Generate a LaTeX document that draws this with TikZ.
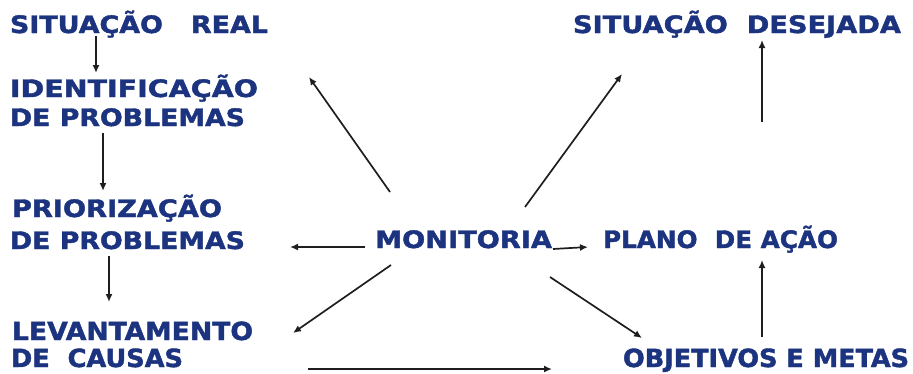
\documentclass[tikz,border=0pt]{standalone}
\usepackage{fontspec}
\usepackage{graphicx}
\setmainfont{DejaVu Sans}
\newfontfamily\labelfont{DejaVu Sans Bold}[FakeBold=1.6]
\newfontfamily\narrowfont{DejaVu Sans Condensed Bold}[FakeBold=1.6]
\usetikzlibrary{arrows.meta,calc}
\definecolor{labelblue}{RGB}{28,52,128}
\definecolor{linegray}{RGB}{30,30,30}
% scale a label horizontally so that it spans the given width (in pt)
\newcommand\fitw[2]{\setbox0=\hbox{#2}\pgfmathsetmacro\fitratio{#1/\the\wd0}\scalebox{\fitratio}[1]{\box0}}
\begin{document}
\begin{tikzpicture}[x=1pt,y=-1pt,
  lbl/.style={anchor=base west,inner sep=0pt,outer sep=0pt,text=labelblue,
    font=\labelfont\fontsize{24}{24}\selectfont},
  lblnarrow/.style={lbl,font=\narrowfont\fontsize{25}{25}\selectfont},
  flow/.style={draw=linegray,line width=1.7pt,-{Latex[length=8pt,width=7pt]}}]
\useasboundingbox (0,0) rectangle (913,373);

% left column
\node[lbl] (real)    at (10,33)  {\fitw{258}{SITUAÇÃO\ \ \ REAL}};
\node[lbl] (ident1)  at (10,97)  {\fitw{248}{IDENTIFICAÇÃO}};
\node[lbl] (ident2)  at (10,126) {\fitw{235}{DE PROBLEMAS}};
\node[lbl] (prior1)  at (12,217) {\fitw{210}{PRIORIZAÇÃO}};
\node[lbl] (prior2)  at (10,249) {\fitw{235}{DE PROBLEMAS}};
\node[lblnarrow] (levant1) at (12,340) {\fitw{241}{LEVANTAMENTO}};
\node[lblnarrow] (levant2) at (11,367) {\fitw{172}{DE\ \ CAUSAS}};

% centre and right column
\node[lbl] (monit)   at (375,248) {\fitw{177}{MONITORIA}};
\node[lbl] (plano)   at (603,248) {\fitw{235}{PLANO\ \ DE AÇÃO}};
\node[lbl] (desej)   at (573,33)  {\fitw{328}{SITUAÇÃO\ \ DESEJADA}};
\node[lblnarrow] (objet) at (623,367) {\fitw{286}{OBJETIVOS E METAS}};

% sequence on the left
\draw[flow] ($(real.base west)+(86,3)$)   -- ($(ident1.base west)+(86,-24)$);
\draw[flow] ($(ident2.base west)+(93,7)$) -- ($(prior1.base west)+(91,-26)$);
\draw[flow] ($(prior2.base west)+(99,7)$) -- ($(levant1.base west)+(97,-38)$);
\draw[flow] ($(levant2.base east)+(125,2)$) -- ($(objet.base west)+(-71,2)$);

% arrows leaving the monitoring node
\draw[flow] ($(monit.base west)+(-10,-1)$) -- ($(prior2.base east)+(45,-2)$);
\draw[flow] ($(monit.base east)+(1,1)$)    -- ($(plano.base west)+(-15,-1)$);
\draw[flow] ($(monit.base west)+(15,-56)$) -- ($(ident1.base east)+(51,-20)$);
\draw[flow] ($(monit.base west)+(150,-41)$) -- ($(desej.base west)+(49,41)$);
\draw[flow] ($(monit.base west)+(16,17)$)  -- ($(levant1.base east)+(40,-7)$);
\draw[flow] ($(monit.base east)+(-2,29)$)  -- ($(objet.base west)+(19,-29)$);

% right column going up
\draw[flow] ($(objet.base west)+(139,-30)$) -- ($(plano.base west)+(159,12)$);
\draw[flow] ($(desej.base west)+(189,89)$)  -- ($(desej.base west)+(189,7)$);
\end{tikzpicture}
\end{document}
